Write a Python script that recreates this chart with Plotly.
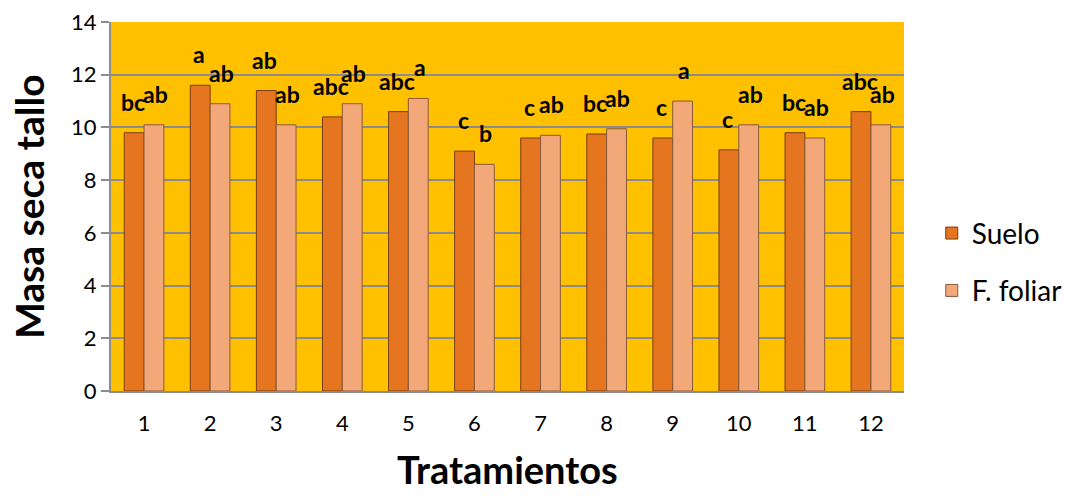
import plotly.graph_objects as go

tratamientos = [1, 2, 3, 4, 5, 6, 7, 8, 9, 10, 11, 12]
suelo = [9.8, 11.6, 11.4, 10.4, 10.6, 9.1, 9.6, 9.75, 9.6, 9.15, 9.8, 10.6]
foliar = [10.1, 10.9, 10.1, 10.9, 11.1, 8.6, 9.7, 9.95, 11.0, 10.1, 9.6, 10.1]
letras_suelo = ["bc", "a", "ab", "abc", "abc", "c", "c", "bc", "c", "c", "bc", "abc"]
letras_foliar = ["ab", "ab", "ab", "ab", "a", "b", "ab", "ab", "a", "ab", "ab", "ab"]

FONT = "Lato"
GRID = "#8c8c8c"

fig = go.Figure()
fig.add_bar(
    x=tratamientos, y=suelo, name="Suelo", legendgroup="s",
    marker=dict(color="#E5761F", line=dict(color="#7a3d10", width=1)),
)
fig.add_bar(
    x=tratamientos, y=foliar, name="F. foliar", legendgroup="f",
    marker=dict(color="#F2A878", line=dict(color="#8a5a3a", width=1)),
)

# significance letters above each bar
annotations = []
for xi, v, t in zip(tratamientos, suelo, letras_suelo):
    annotations.append(dict(x=xi - 0.17, y=v, text=t, showarrow=False,
                            yanchor="bottom", yshift=15,
                            font=dict(family=FONT, size=23, color="black", weight="bold")))
for xi, v, t in zip(tratamientos, foliar, letras_foliar):
    annotations.append(dict(x=xi + 0.17, y=v, text=t, showarrow=False,
                            yanchor="bottom", yshift=15,
                            font=dict(family=FONT, size=23, color="black", weight="bold")))

# axis titles
annotations.append(dict(xref="paper", yref="paper", x=-0.104, y=0.5, text="Masa seca tallo",
                        textangle=-90, showarrow=False, xanchor="center", yanchor="middle",
                        font=dict(family=FONT, size=39, color="black", weight="bold")))
annotations.append(dict(xref="paper", yref="paper", x=0.5, y=-0.212, text="Tratamientos",
                        showarrow=False, xanchor="center", yanchor="middle",
                        font=dict(family=FONT, size=38, color="black", weight="bold")))

fig.update_layout(
    width=1079, height=496,
    margin=dict(l=111, r=171, t=22, b=105),
    paper_bgcolor="white",
    plot_bgcolor="#FFC000",
    barmode="group",
    bargap=0.4,
    bargroupgap=0,
    font=dict(family=FONT, color="black"),
    annotations=annotations,
    legend=dict(x=1.035, y=0.35, xanchor="left", yanchor="middle",
                font=dict(family=FONT, size=28, color="black"),
                tracegroupgap=18, bgcolor="rgba(0,0,0,0)"),
    showlegend=True,
)
fig.update_xaxes(
    range=[0.5, 12.5], tickmode="array", tickvals=tratamientos,
    ticktext=[str(t) for t in tratamientos],
    tickfont=dict(family=FONT, size=22, color="black"),
    showgrid=False, showline=True, linecolor=GRID, linewidth=2,
    ticks="", ticklabelstandoff=12, automargin=False,
)
fig.update_yaxes(
    range=[0, 14], dtick=2,
    tickfont=dict(family=FONT, size=22, color="black"),
    showgrid=True, gridcolor=GRID, gridwidth=2,
    showline=True, linecolor=GRID, linewidth=2,
    ticks="outside", ticklen=8, tickcolor=GRID, tickwidth=2,
    zeroline=False, automargin=False,
)

fig.write_html("out.html")
